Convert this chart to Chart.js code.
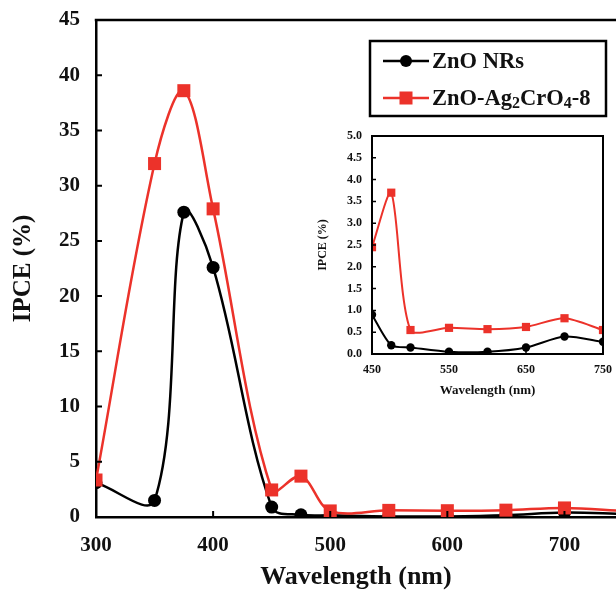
<!DOCTYPE html>
<html>
<head>
<meta charset="utf-8">
<script src="https://cdn.jsdelivr.net/npm/chart.js@4.4.1/dist/chart.umd.min.js"></script>
<style>
  html, body { margin: 0; padding: 0; background: #fff; }
  #wrap { position: relative; width: 616px; height: 590px; overflow: hidden; }
  #mainChart { position: absolute; left: 0; top: 0; }
  #insetChart { position: absolute; left: 300px; top: 120px; }
</style>
</head>
<body>
<div id="wrap">
  <canvas id="mainChart" width="616" height="590"></canvas>
  <canvas id="insetChart" width="316" height="290"></canvas>
</div>
<script>
// values
const wavelengths = [300, 350, 375, 400, 450, 475, 500, 550, 600, 650, 700, 750];
const znoNRs      = [3.1, 1.5, 27.6, 22.6, 0.9, 0.2, 0.15, 0.05, 0.05, 0.15, 0.4, 0.28];
const znoAgCrO    = [3.35, 32.0, 38.6, 27.9, 2.45, 3.7, 0.55, 0.6, 0.57, 0.62, 0.82, 0.55];
const seriesNames = ['ZnO NRs', 'ZnO-Ag₂CrO₄-8'];

const mainXTicks  = [300, 400, 500, 600, 700];
const mainYTicks  = [0, 5, 10, 15, 20, 25, 30, 35, 40, 45];
const insetXTicks = [450, 550, 650, 750];
const insetYTicks = [0.0, 0.5, 1.0, 1.5, 2.0, 2.5, 3.0, 3.5, 4.0, 4.5, 5.0];
const insetFrom = 4; // inset starts at 450 nm

const FONT = "'Liberation Serif', 'Times New Roman', serif";
const RED = 'rgb(236, 50, 42)';

function toPoints(xs, ys) {
  return xs.map((x, i) => ({ x: x, y: ys[i] }));
}

// box/top line + inward tick marks
const frameAndTicks = {
  id: 'frameAndTicks',
  afterDraw(chart, args, opts) {
    const { ctx, chartArea: a } = chart;
    const xs = chart.scales.x, ys = chart.scales.y;
    ctx.save();
    ctx.strokeStyle = '#000';
    ctx.lineWidth = opts.width;
    ctx.beginPath();
    if (opts.box) {
      ctx.rect(a.left, a.top, a.right - a.left, a.bottom - a.top);
    } else {
      ctx.moveTo(a.left - opts.width / 2, a.top);
      ctx.lineTo(a.right + 2, a.top);
    }
    ctx.stroke();
    ctx.lineWidth = opts.tickWidth;
    ctx.beginPath();
    xs.ticks.forEach(t => {
      const px = xs.getPixelForValue(t.value);
      if (px - a.left < 3 || a.right - px < 3) return;
      ctx.moveTo(px, a.bottom);
      ctx.lineTo(px, a.bottom - opts.len);
    });
    ys.ticks.forEach(t => {
      const py = ys.getPixelForValue(t.value);
      if (a.bottom - py < 3 || py - a.top < 3) return;
      ctx.moveTo(a.left, py);
      ctx.lineTo(a.left + opts.len, py);
    });
    ctx.stroke();
    ctx.restore();
  }
};

// text with unicode subscripts drawn as small lowered digits
function drawRich(ctx, text, x, y, size) {
  const sub = '₀₁₂₃₄₅₆₇₈₉';
  let cx = x;
  for (const ch of text) {
    const k = sub.indexOf(ch);
    if (k >= 0) {
      ctx.font = `bold ${Math.round(size * 0.72)}px ${FONT}`;
      ctx.fillText(String(k), cx, y + size * 0.2);
      cx += ctx.measureText(String(k)).width;
    } else {
      ctx.font = `bold ${size}px ${FONT}`;
      ctx.fillText(ch, cx, y);
      cx += ctx.measureText(ch).width;
    }
  }
}

const boxLegend = {
  id: 'boxLegend',
  afterDraw(chart) {
    const ctx = chart.ctx;
    ctx.save();
    ctx.fillStyle = '#fff';
    ctx.fillRect(370, 41, 236, 75);
    ctx.strokeStyle = '#000';
    ctx.lineWidth = 2.5;
    ctx.strokeRect(370, 41, 236, 75);
    const rows = [61, 98];
    chart.data.datasets.forEach((ds, i) => {
      const y = rows[i];
      ctx.strokeStyle = ds.borderColor;
      ctx.lineWidth = 2.5;
      ctx.beginPath();
      ctx.moveTo(383, y);
      ctx.lineTo(429, y);
      ctx.stroke();
      ctx.fillStyle = ds.borderColor;
      if (ds.pointStyle === 'rect') {
        ctx.fillRect(399.5, y - 6.5, 13, 13);
      } else {
        ctx.beginPath();
        ctx.arc(406, y, 6, 0, Math.PI * 2);
        ctx.fill();
      }
      ctx.fillStyle = '#111';
      ctx.textBaseline = 'middle';
      drawRich(ctx, ds.label, 432, y + 1, 22.5);
    });
    ctx.restore();
  }
};

function makeDatasets(from, big) {
  return [
    {
      label: seriesNames[0],
      data: toPoints(wavelengths.slice(from), znoNRs.slice(from)),
      borderColor: '#000',
      backgroundColor: '#000',
      borderWidth: big ? 2.5 : 2,
      pointStyle: 'circle',
      pointRadius: big ? 6.5 : 4.2,
      pointBorderWidth: 0,
      tension: big ? 0.35 : 0.25,
      order: 1
    },
    {
      label: seriesNames[1],
      data: toPoints(wavelengths.slice(from), znoAgCrO.slice(from)),
      borderColor: RED,
      backgroundColor: RED,
      borderWidth: big ? 2.5 : 2,
      pointStyle: 'rect',
      pointRadius: big ? 9.2 : 5.8,
      pointBorderWidth: 0,
      tension: big ? 0.35 : 0.25,
      order: 0
    }
  ];
}

function axis(opts) {
  return {
    type: 'linear',
    min: opts.min,
    max: opts.max,
    grid: { display: false, drawTicks: false },
    border: { display: true, color: '#000', width: opts.border },
    afterBuildTicks: s => { s.ticks = opts.ticks.map(v => ({ value: v })); },
    afterFit: s => {
      if (opts.w) s.width = opts.w;
      if (opts.h) s.height = opts.h;
      // let layout.padding alone decide the plot edges
      s.paddingTop = s.paddingBottom = s.paddingLeft = s.paddingRight = 0;
    },
    ticks: {
      color: '#111',
      padding: opts.pad,
      autoSkip: false,
      maxRotation: 0,
      font: { family: FONT, size: opts.tickSize, weight: 'bold' },
      callback: opts.fmt || (v => String(v))
    },
    title: {
      display: true,
      text: opts.title,
      color: '#111',
      font: { family: FONT, size: opts.titleSize, weight: 'bold', lineHeight: 1 },
      padding: opts.titlePad
    }
  };
}

new Chart(document.getElementById('mainChart'), {
  type: 'line',
  data: { datasets: makeDatasets(0, true) },
  options: {
    responsive: false,
    animation: false,
    devicePixelRatio: 1,
    events: [],
    layout: { autoPadding: false, padding: { top: 20, right: 0, left: 0, bottom: 0 } },
    plugins: {
      legend: { display: false },
      tooltip: { enabled: false },
      frameAndTicks: { width: 2.5, tickWidth: 2, len: 6, box: false }
    },
    scales: {
      x: axis({ min: 300, max: 744, ticks: mainXTicks, border: 2.5, pad: 16, tickSize: 21,
                h: 73, title: 'Wavelength (nm)', titleSize: 26, titlePad: { top: 0, bottom: 0 } }),
      y: axis({ min: 0, max: 45, ticks: mainYTicks, border: 2.5, pad: 16, tickSize: 21,
                w: 96, title: 'IPCE (%)', titleSize: 25, titlePad: { top: 11, bottom: 0 } })
    }
  },
  plugins: [frameAndTicks, boxLegend]
});

new Chart(document.getElementById('insetChart'), {
  type: 'line',
  data: { datasets: makeDatasets(insetFrom, false) },
  options: {
    responsive: false,
    animation: false,
    devicePixelRatio: 1,
    events: [],
    layout: { autoPadding: false, padding: { top: 16, right: 13, left: 0, bottom: 0 } },
    plugins: {
      legend: { display: false },
      tooltip: { enabled: false },
      frameAndTicks: { width: 2, tickWidth: 1.5, len: 4, box: true }
    },
    scales: {
      x: axis({ min: 450, max: 750, ticks: insetXTicks, border: 2, pad: 9, tickSize: 12,
                h: 56, title: 'Wavelength (nm)', titleSize: 13, titlePad: { top: 0, bottom: 13 } }),
      y: axis({ min: 0, max: 5, ticks: insetYTicks, border: 2, pad: 10, tickSize: 12,
                w: 72, title: 'IPCE (%)', titleSize: 12, titlePad: { top: 17, bottom: 0 },
                fmt: v => v.toFixed(1) })
    }
  },
  plugins: [frameAndTicks]
});
</script>
</body>
</html>
